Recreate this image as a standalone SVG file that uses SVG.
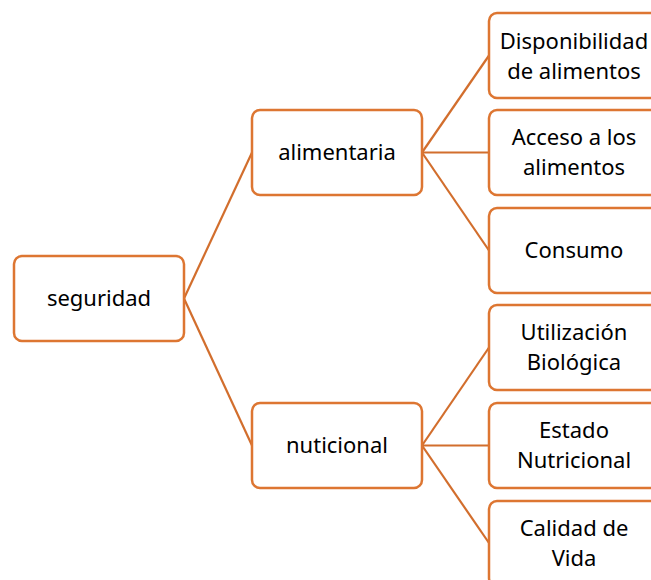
<svg xmlns="http://www.w3.org/2000/svg" width="651" height="580" viewBox="0 0 651 580">
<style>
.box{fill:#fff;stroke:#DD7632;stroke-width:2.5}
.ln{stroke:#D26E2D;stroke-width:2.2;fill:none}
text{font-family:"Noto Sans","Liberation Sans",sans-serif;font-size:22px;fill:#000;text-anchor:middle}
</style>
<rect width="651" height="580" fill="#fff"/>
<g id="connectors">
<line class="ln" x1="184" y1="298.5" x2="252" y2="152.5"/>
<line class="ln" x1="184" y1="298.5" x2="252" y2="445.5"/>
<line class="ln" x1="422" y1="152.5" x2="489" y2="55.5"/>
<line class="ln" x1="422" y1="152.5" x2="489" y2="152.5"/>
<line class="ln" x1="422" y1="152.5" x2="489" y2="250.5"/>
<line class="ln" x1="422" y1="445.5" x2="489" y2="347.5"/>
<line class="ln" x1="422" y1="445.5" x2="489" y2="445.5"/>
<line class="ln" x1="422" y1="445.5" x2="489" y2="543"/>
</g>
<g id="seguridad"><rect class="box" x="14" y="256" width="170" height="85" rx="8"/><text x="99" y="306">seguridad</text></g>
<g id="alimentaria"><rect class="box" x="252" y="110" width="170" height="85" rx="8"/><text x="337" y="160">alimentaria</text></g>
<g id="nutricional"><rect class="box" x="252" y="403" width="170" height="85" rx="8"/><text x="337" y="453">nuticional</text></g>
<g id="disponibilidad"><rect class="box" x="489" y="13" width="170" height="85" rx="8"/><text x="574" y="48.5">Disponibilidad</text><text x="574" y="78.5">de alimentos</text></g>
<g id="acceso"><rect class="box" x="489" y="110" width="170" height="85" rx="8"/><text x="574" y="145">Acceso a los</text><text x="574" y="175">alimentos</text></g>
<g id="consumo"><rect class="box" x="489" y="208" width="170" height="85" rx="8"/><text x="574" y="258">Consumo</text></g>
<g id="utilizacion"><rect class="box" x="489" y="305" width="170" height="85" rx="8"/><text x="574" y="340">Utilización</text><text x="574" y="370">Biológica</text></g>
<g id="estado"><rect class="box" x="489" y="403" width="170" height="85" rx="8"/><text x="574" y="438">Estado</text><text x="574" y="468">Nutricional</text></g>
<g id="calidad"><rect class="box" x="489" y="501" width="170" height="85" rx="8"/><text x="574" y="536">Calidad de</text><text x="574" y="566">Vida</text></g>
</svg>
